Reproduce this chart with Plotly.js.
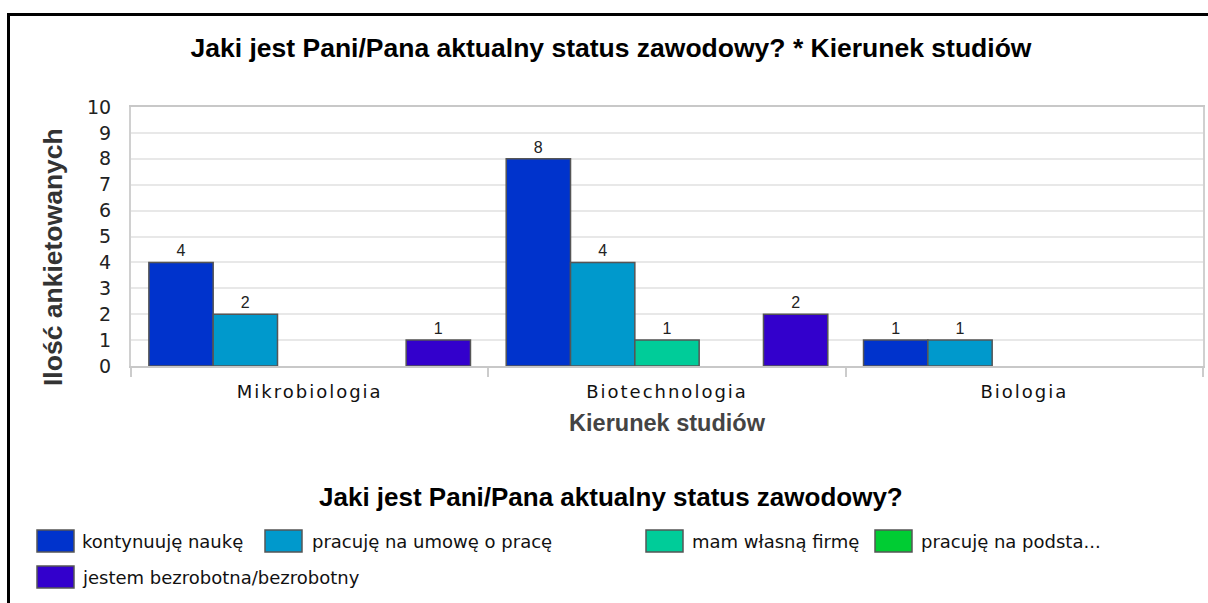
<!DOCTYPE html>
<html>
<head>
<meta charset="utf-8">
<script src="https://cdn.plot.ly/plotly-3.0.1.min.js"></script>
<style>
html,body{margin:0;padding:0;background:#fff;}
#chart{width:1208px;height:603px;}
.xtick text{letter-spacing:2px;}
</style>
</head>
<body>
<div id="chart"></div>
<script>
// ---- data ----
const categories = ["Mikrobiologia", "Biotechnologia", "Biologia"];
const seriesNames = ["kontynuuję naukę", "pracuję na umowę o pracę", "mam własną firmę", "pracuję na podsta...", "jestem bezrobotna/bezrobotny"];
const kontynuuje = [4, 8, 1];
const umowa = [2, 4, 1];
const firma = [0, 1, 0];
const podstawa = [0, 0, 0];
const bezrobotny = [1, 2, 0];
const yTicks = [0,1,2,3,4,5,6,7,8,9,10];
const chartTitle = "Jaki jest Pani/Pana aktualny status zawodowy? * Kierunek studiów";
const legendTitle = "Jaki jest Pani/Pana aktualny status zawodowy?";
const xTitle = "Kierunek studiów";
const yTitle = "Ilość ankietowanych";

// ---- style ----
const seriesValues = [kontynuuje, umowa, firma, podstawa, bezrobotny];
const colors = ["#0033CC", "#0099CC", "#00CC99", "#00CC33", "#3300CC"];
const L = 131, R = 1203, T = 107, B = 366;
const W = 1208, H = 603;
const px = x => (x - L) / (R - L);
const py = y => (B - y) / (B - T);
const boldFont = "Liberation Sans, Arial, sans-serif";

const traces = seriesValues.map((vals, i) => ({
  type: "bar",
  name: seriesNames[i],
  x: categories,
  y: vals.map(v => v > 0 ? v : null),
  text: vals.map(v => v > 0 ? String(v) : ""),
  textposition: "outside",
  cliponaxis: false,
  textfont: {family: boldFont, size: 16, color: "#222"},
  marker: {color: colors[i], line: {color: "#555", width: 1.5}},
  hoverinfo: "x+y+name"
}));

// legend placement (pixels)
const legPos = [
  {sx: 37, tx: 80, y: 541},
  {sx: 265, tx: 310, y: 541},
  {sx: 646, tx: 690, y: 541},
  {sx: 875, tx: 919, y: 541},
  {sx: 37, tx: 80, y: 577}
];

const shapes = [];
const annotations = [];
// frame lines
shapes.push({type: "line", xref: "paper", yref: "paper", x0: px(7), x1: px(1210), y0: py(14.5), y1: py(14.5), line: {color: "#000", width: 3}});
shapes.push({type: "line", xref: "paper", yref: "paper", x0: px(8.5), x1: px(8.5), y0: py(13), y1: py(606), line: {color: "#000", width: 3}});

legPos.forEach((p, i) => {
  shapes.push({type: "rect", xref: "paper", yref: "paper",
    x0: px(p.sx), x1: px(p.sx + 37), y0: py(p.y - 11), y1: py(p.y + 11),
    fillcolor: colors[i], line: {color: "#555", width: 1.5}});
  annotations.push({xref: "paper", yref: "paper", x: px(p.tx), y: py(p.y),
    xanchor: "left", yanchor: "middle", showarrow: false, text: seriesNames[i],
    font: {family: "DejaVu Sans, sans-serif", size: 18, color: "#111"}});
});

annotations.push({xref: "paper", yref: "paper", x: px(611), y: py(497), xanchor: "center", yanchor: "middle",
  showarrow: false, text: "<b>" + legendTitle + "</b>",
  font: {family: boldFont, size: 26, color: "#000"}});
annotations.push({xref: "paper", yref: "paper", x: px(53), y: py(257), xanchor: "center", yanchor: "middle",
  textangle: -90, showarrow: false, text: "<b>" + yTitle + "</b>",
  font: {family: boldFont, size: 26.5, color: "#333"}});

const layout = {
  width: W, height: H,
  margin: {l: L, r: W - R, t: T, b: H - B},
  paper_bgcolor: "#fff", plot_bgcolor: "#fff",
  title: {text: "<b>" + chartTitle + "</b>", xref: "container", x: 611 / W, xanchor: "center",
    yref: "container", y: 1 - 48 / H, yanchor: "middle",
    font: {family: boldFont, size: 26.5, color: "#000"}},
  barmode: "group", bargap: 0.1, bargroupgap: 0,
  showlegend: false,
  xaxis: {
    type: "category", tickson: "boundaries", ticks: "outside", ticklen: 9, tickcolor: "#ccc", tickwidth: 2,
    ticklabelstandoff: 8,
    showline: true, linecolor: "#c8c8c8", linewidth: 2, mirror: true, showgrid: false,
    tickfont: {family: "DejaVu Sans, sans-serif", size: 18, color: "#111"},
    title: {text: "<b>" + xTitle + "</b>", standoff: 14, font: {family: boldFont, size: 23.5, color: "#444"}}
  },
  yaxis: {
    range: [0, 10], tickvals: yTicks, ticktext: yTicks.map(String), ticks: "", ticklabelstandoff: 14,
    showline: true, linecolor: "#d0d0d0", linewidth: 2, mirror: true,
    showgrid: true, gridcolor: "#e8e8e8", gridwidth: 2, zeroline: false,
    tickfont: {family: "DejaVu Sans, sans-serif", size: 19, color: "#222"}
  },
  shapes: shapes,
  annotations: annotations
};

Plotly.newPlot("chart", traces, layout, {displayModeBar: false, staticPlot: true});
</script>
</body>
</html>
